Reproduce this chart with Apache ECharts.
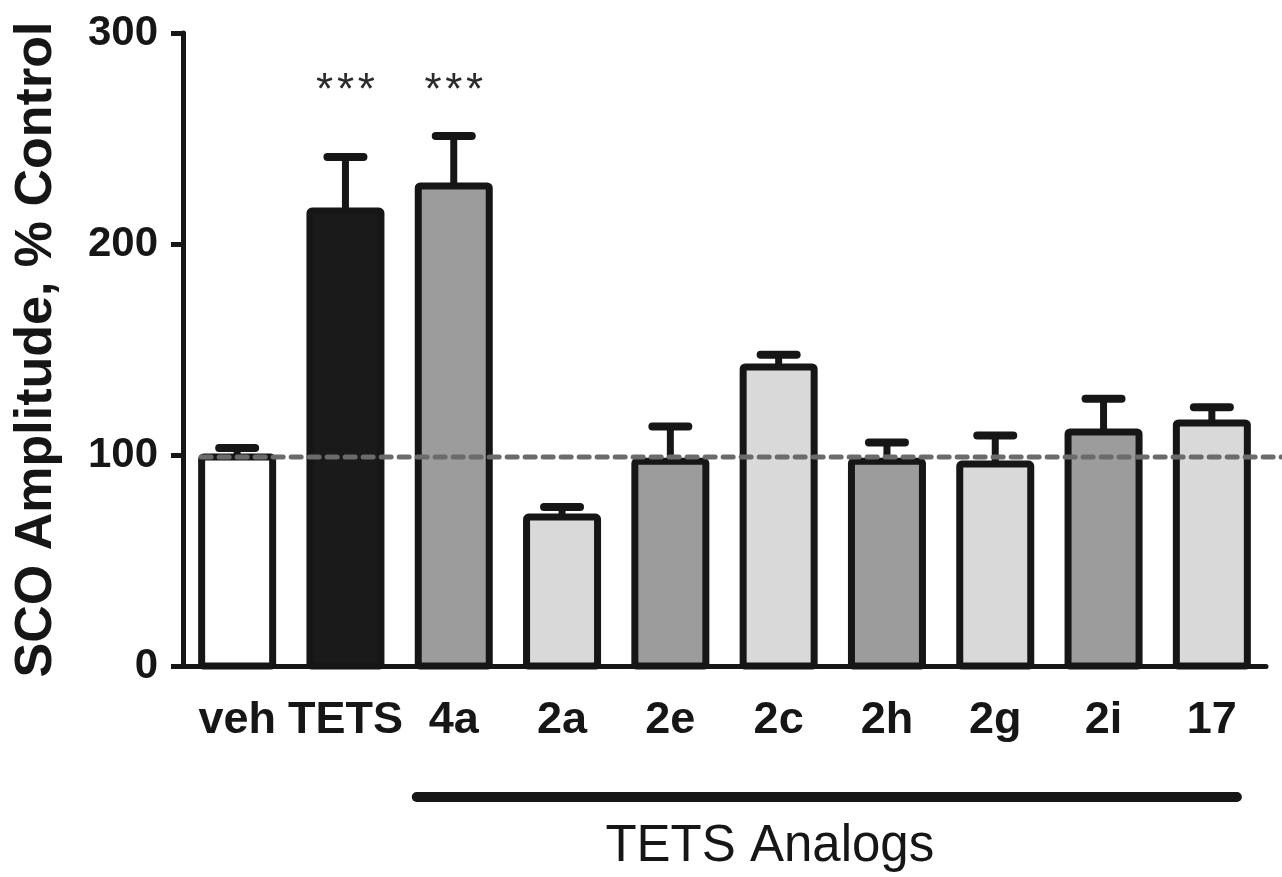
<!DOCTYPE html>
<html><head><meta charset="utf-8">
<script src="https://cdn.jsdelivr.net/npm/echarts@6/dist/echarts.min.js"></script>
<style>html,body{margin:0;padding:0;background:#fff}#c{width:1282px;height:877px}</style>
</head><body><div id="c"></div>
<script>
// ---- data ----
const categories = ['veh', 'TETS', '4a', '2a', '2e', '2c', '2h', '2g', '2i', '17'];
const means = [99, 215.6, 227.5, 70.6, 97, 141.7, 97, 95.7, 110.9, 115.2];
const sem = [4.3, 25.6, 23.7, 4.8, 16.5, 5.8, 8.9, 13.5, 15.8, 7.4];
const significance = ['', '***', '***', '', '', '', '', '', '', ''];
const yTicks = [0, 100, 200, 300];
const groupLabel = 'TETS Analogs';
const groupFirst = '4a';
const groupLast = '17';
const sigLevel = 272;

// ---- styles ----
const fills = ['#ffffff', '#1a1a1a', '#9c9c9c', '#d9d9d9', '#9c9c9c', '#d9d9d9', '#9c9c9c', '#d9d9d9', '#9c9c9c', '#d9d9d9'];
const INK = '#161616';
const FONT = '"Liberation Sans", Arial, Helvetica, sans-serif';
const BAR_W = 71;

const chart = echarts.init(document.getElementById('c'), null, {renderer: 'canvas'});
const option = {
  animation: false,
  backgroundColor: '#ffffff',
  grid: {left: 183, right: 16, top: 33, bottom: 211, containLabel: false, outerBoundsMode: 'none'},
  xAxis: {
    type: 'category',
    data: categories,
    axisLine: {show: true, lineStyle: {color: INK, width: 5}},
    axisTick: {show: false},
    axisLabel: {interval: 0, margin: 32, color: INK, fontFamily: FONT, fontWeight: 'bold', fontSize: 45, hideOverlap: false},
    splitLine: {show: false}
  },
  yAxis: {
    type: 'value',
    min: yTicks[0], max: yTicks[yTicks.length - 1], interval: yTicks[1] - yTicks[0],
    name: 'SCO Amplitude, % Control',
    nameLocation: 'middle',
    nameGap: 120,
    nameTextStyle: {color: INK, fontFamily: FONT, fontWeight: 'bold', fontSize: 52},
    axisLine: {show: true, lineStyle: {color: INK, width: 5}},
    axisTick: {show: true, length: 12, lineStyle: {color: INK, width: 5}},
    axisLabel: {margin: 25, color: INK, fontFamily: FONT, fontWeight: 'bold', fontSize: 42},
    splitLine: {show: false}
  },
  series: [
    {
      type: 'custom',
      z: 2,
      data: means.map((v, i) => [i, v]),
      renderItem(params, api) {
        const i = api.value(0);
        const top = api.coord([i, api.value(1)]);
        const base = api.coord([i, 0]);
        return {
          type: 'rect',
          shape: {x: top[0] - BAR_W / 2, y: top[1], width: BAR_W, height: base[1] - top[1], r: 2},
          style: {fill: fills[params.dataIndex], stroke: INK, lineWidth: 7, lineJoin: 'round'}
        };
      }
    },
    {
      type: 'custom',
      z: 3,
      data: categories.map((c, i) => [i, means[i], means[i] + sem[i]]),
      renderItem(params, api) {
        const i = api.value(0);
        const base = api.coord([i, api.value(1)]);
        const top = api.coord([i, api.value(2)]);
        const children = [
          {type: 'line', shape: {x1: base[0], y1: base[1], x2: top[0], y2: top[1]}, style: {stroke: INK, lineWidth: 7}},
          {type: 'line', shape: {x1: top[0] - 18, y1: top[1], x2: top[0] + 18, y2: top[1]}, style: {stroke: INK, lineWidth: 8, lineCap: 'round'}}
        ];
        const s = significance[params.dataIndex];
        if (s) {
          const p = api.coord([i, sigLevel]);
          children.push({type: 'text', x: p[0], y: p[1], style: {text: s.split('').join('\u200A'), fill: '#2a2a2a', font: '44px ' + FONT, align: 'center', verticalAlign: 'middle'}});
        }
        return {type: 'group', children};
      }
    }
  ]
};
chart.setOption(option);

function overlay() {
  const xFirst = chart.convertToPixel({xAxisIndex: 0}, groupFirst);
  const xLast = chart.convertToPixel({xAxisIndex: 0}, groupLast);
  const xVeh = chart.convertToPixel({xAxisIndex: 0}, categories[0]);
  const yRef = chart.convertToPixel({yAxisIndex: 0}, means[0]);
  const W = chart.getWidth();
  chart.setOption({
    graphic: [
      {type: 'line', z: 100, shape: {x1: xVeh - 36, y1: yRef, x2: W, y2: yRef},
       style: {stroke: '#6b6b6b', lineWidth: 5, lineDash: [10, 8], lineCap: 'round'}},
      {type: 'line', z: 100, shape: {x1: xFirst - 37, y1: 797, x2: xLast + 25, y2: 797},
       style: {stroke: INK, lineWidth: 10, lineCap: 'round'}},
      {type: 'text', z: 100, x: (xFirst + xLast) / 2 - 63, y: 847,
       style: {text: groupLabel, fill: INK, font: '51px ' + FONT, align: 'center', verticalAlign: 'middle'}}
    ]
  });
}
overlay();
</script>
</body></html>
